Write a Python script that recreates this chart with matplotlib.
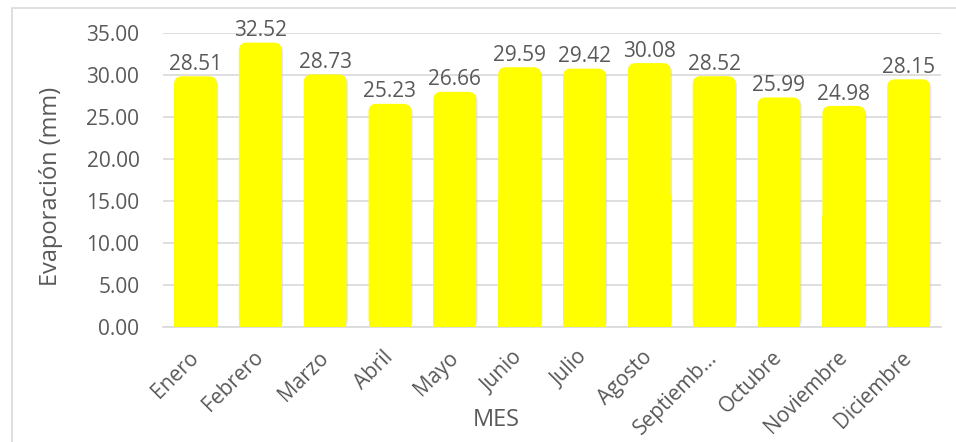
import matplotlib
matplotlib.use("Agg")
from matplotlib import pyplot as plt
from matplotlib.patches import FancyBboxPatch, Rectangle
from matplotlib import patheffects as pe
from matplotlib.transforms import ScaledTranslation
import numpy as np

meses = ["Enero", "Febrero", "Marzo", "Abril", "Mayo", "Junio", "Julio",
         "Agosto", "Septiemb…", "Octubre", "Noviembre", "Diciembre"]
evaporacion = [28.51, 32.52, 28.73, 25.23, 26.66, 29.59, 29.42,
               30.08, 28.52, 25.99, 24.98, 28.15]
y_ticks = [0, 5, 10, 15, 20, 25, 30, 35]

gris = "#595959"
plt.rcParams["font.family"] = ["Open Sans", "DejaVu Sans"]

fig = plt.figure(figsize=(9.56, 4.42), dpi=100)
# marco del grafico
fig.patches.append(Rectangle((12 / 956, -0.1), 1.0, 1.1 - 8 / 442,
                             transform=fig.transFigure, fill=False,
                             edgecolor="#d9d9d9", linewidth=1.2))
ax = fig.add_axes([163 / 956, 1 - 326.7 / 442, (941 - 163) / 956, 294 / 442])

x = np.arange(len(meses))
ancho = 0.66
extra = 1.3  # la tapa redondeada sobresale del valor
barras = ax.bar(x, [v + extra for v in evaporacion], width=ancho, color="none")

ax.set_xlim(-0.5, len(meses) - 0.5)
ax.set_ylim(0, 35)

# aspecto para esquinas circulares
px_x = (941 - 163) / 12.0
px_y = 294 / 35.0
aspecto = px_x / px_y
sombra = [pe.SimplePatchShadow(offset=(1, -1), shadow_rgbFace="#c8c8c8", alpha=0.45), pe.Normal()]
for b in barras:
    x0, y0 = b.get_x(), b.get_y()
    w, h = b.get_width(), b.get_height()
    r = 0.12
    p = FancyBboxPatch((x0, y0), w, h, boxstyle=f"round,pad=0,rounding_size={r}",
                       mutation_aspect=aspecto, facecolor="#ffff00",
                       edgecolor="none", zorder=3)
    p.set_path_effects(sombra)
    ax.add_patch(p)
    # base recta
    ax.add_patch(Rectangle((x0, 0), w, h / 2, facecolor="#ffff00", edgecolor="none", zorder=3))

for xi, v in zip(x, evaporacion):
    ax.annotate(f"{v:.2f}", xy=(xi, v + extra), xytext=(0, 1), textcoords="offset points",
                ha="center", va="bottom", fontsize=15, color=gris, zorder=4)

ax.set_yticks(y_ticks)
ax.set_yticklabels([f"{t:.2f}" for t in y_ticks], fontsize=15, color=gris)
ax.set_xticks(x)
ax.set_xticklabels(meses, rotation=45, ha="right", va="center", rotation_mode="anchor",
                   fontsize=15, color=gris)
desplaza = ScaledTranslation(6 / 100, 0, fig.dpi_scale_trans)
for lbl in ax.get_xticklabels():
    lbl.set_transform(lbl.get_transform() + desplaza)
ax.tick_params(axis="y", length=0, pad=17)
ax.tick_params(axis="x", length=0, pad=20)

ax.grid(axis="y", color="#d9d9d9", linewidth=1.2, zorder=0)
ax.set_axisbelow(True)
for s in ["top", "right", "left"]:
    ax.spines[s].set_visible(False)
ax.spines["bottom"].set_color("#d9d9d9")
ax.spines["bottom"].set_linewidth(1.2)

ax.set_ylabel("Evaporación (mm)", fontsize=17, color=gris)
ax.yaxis.set_label_coords((63 - 163) / 778, (326.7 - 186) / 294)
fig.text(496 / 956, 1 - 420 / 442, "MES", ha="center", va="center", fontsize=17, color=gris)

fig.savefig("out.png", dpi=100)
